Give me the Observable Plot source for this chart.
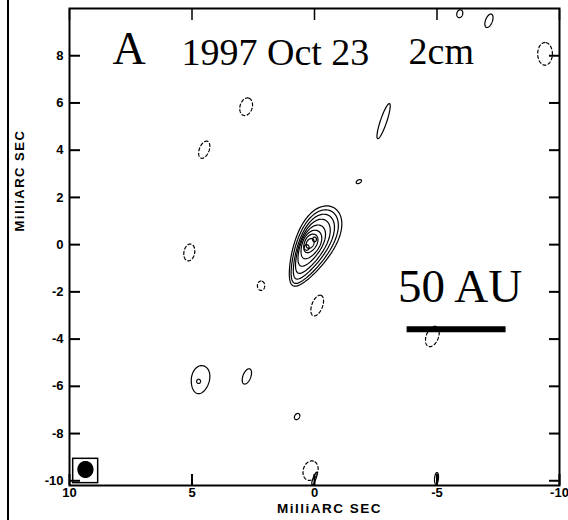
<!DOCTYPE html>
<html><head><meta charset="utf-8">
<script src="https://cdn.jsdelivr.net/npm/d3@7"></script>
<script src="https://cdn.jsdelivr.net/npm/@observablehq/plot@0.6"></script>
<style>
body{margin:0;background:#fff}
#wrap{position:relative;width:568px;height:520px;overflow:hidden}
#wrap::before{content:"";position:absolute;left:7px;top:0;bottom:0;width:2px;background:#000;z-index:2}
</style></head><body><div id="wrap"></div>
<script>
// axes
const xDomain = [10, -10];
const yDomain = [-10.2, 10];
const xTicks = [10, 5, 0, -5, -10];
const yTicks = [-10, -8, -6, -4, -2, 0, 2, 4, 6, 8];
const axisTitle = "MilliARC SEC";

// contour components (milliarcsec): centre, semi-axes, position angle, egg-ness, dashed (negative level)
const cX   = [0.06, 0.08, 0.10, 0.12, 0.15, 0.15, 0.16, 0.18, 0.32, 0.00,
              2.79, 4.50, -2.82, -1.81, 5.11, 2.18, -0.11, -4.81, 4.66, 4.73,
              2.76, 0.71, 0.16, 0.00, -4.98, -5.93, -7.12, -9.41];
const cY   = [-0.08, -0.10, -0.10, -0.08, -0.05, 0.00, 0.05, 0.05, -0.12, 0.22,
              5.84, 4.02, 5.23, 2.67, -0.33, -1.74, -2.58, -3.89, -5.72, -5.79,
              -5.58, -7.28, -9.57, -9.90, -9.90, 9.78, 9.48, 8.08];
const cA   = [1.85, 1.70, 1.50, 1.25, 0.95, 0.65, 0.42, 0.22, 0.12, 0.10,
              0.38, 0.38, 0.78, 0.12, 0.36, 0.20, 0.46, 0.45, 0.60, 0.09,
              0.34, 0.14, 0.42, 0.28, 0.25, 0.17, 0.30, 0.48];
const cB   = [0.78, 0.68, 0.58, 0.50, 0.42, 0.35, 0.25, 0.15, 0.10, 0.08,
              0.25, 0.20, 0.13, 0.07, 0.22, 0.15, 0.22, 0.25, 0.37, 0.08,
              0.16, 0.10, 0.30, 0.06, 0.08, 0.12, 0.14, 0.30];
const cPA  = [-26, -26, -26, -26, -26, -26, -26, -26, 0, 0,
              -15, -20, -18, -60, -10, 0, -20, -20, -10, 0,
              -20, -30, -15, -20, -5, -15, -20, 0];
const cEgg = [0.3, 0.3, 0.3, 0.25, 0.2, 0.15, 0.1, 0, 0, 0,
              0, 0, 0, 0, 0, 0, 0, 0, 0.1, 0,
              0, 0, 0, 0, 0, 0, 0, 0];
const cDashed = [0, 0, 0, 0, 0, 0, 0, 0, 0, 0,
              1, 1, 0, 0, 1, 1, 1, 1, 0, 0,
              0, 0, 1, 0, 0, 0, 0, 1];

// restoring beam
const beamX = 9.35, beamY = -9.52, beamA = 0.33, beamB = 0.30, beamPA = 0;
const beamBox = {x1: 9.85, x2: 8.83, y1: -9.07, y2: -10.1};

// scale bar (50 AU)
const barLabel = "50 AU";
const bar = {x1: -3.78, x2: -7.82, y: -3.585};

// annotation texts
const panel = "A";
const epoch = "1997 Oct 23";
const band = "2cm";

function outline(x0, y0, a, b, pa, egg, id, dashed) {
  const pts = [];
  const p = pa * Math.PI / 180;
  const mx = Math.sin(p), my = Math.cos(p), nx = Math.cos(p), ny = -Math.sin(p);
  const N = 90;
  for (let k = 0; k <= N; k++) {
    const t = 2 * Math.PI * k / N;
    const u = a * Math.cos(t);
    const v = b * Math.sin(t) * (1 + egg * Math.cos(t));
    pts.push({id, dashed, x: x0 + u * mx + v * nx, y: y0 + u * my + v * ny});
  }
  return pts;
}
const rows = cX.flatMap((_, i) => outline(cX[i], cY[i], cA[i], cB[i], cPA[i], cEgg[i], i, cDashed[i]));
const beamPts = outline(beamX, beamY, beamA, beamB, beamPA, 0, "beam", 0);

const serif = "Liberation Serif, Times New Roman, serif";

const chart = Plot.plot({
  width: 568, height: 520,
  marginLeft: 69, marginRight: 9, marginTop: 8, marginBottom: 35,
  x: {domain: xDomain},
  y: {domain: yDomain},
  style: {fontFamily: "Liberation Sans, Arial, sans-serif", fontSize: "13px", fontWeight: "bold", background: "transparent", color: "black"},
  marks: [
    Plot.line(rows.filter(d => !d.dashed), {x: "x", y: "y", z: "id", stroke: "black", strokeWidth: 1.2}),
    Plot.line(rows.filter(d => d.dashed), {x: "x", y: "y", z: "id", stroke: "black", strokeWidth: 1.2, strokeDasharray: "3,2.5"}),
    Plot.ruleY([bar], {y: "y", x1: "x1", x2: "x2", stroke: "black", strokeWidth: 6}),
    Plot.rect([beamBox], {x1: "x1", x2: "x2", y1: "y1", y2: "y2", fill: "none", stroke: "black", strokeWidth: 1.5}),
    Plot.line(beamPts, {x: "x", y: "y", fill: "black", stroke: "black"}),
    Plot.text([panel], {x: 8.245, y: 7.63, text: d => d, textAnchor: "start", lineAnchor: "bottom", fontFamily: serif, fontWeight: "normal", fontSize: 46}),
    Plot.text([epoch], {x: 5.43, y: 7.59, text: d => d, textAnchor: "start", lineAnchor: "bottom", fontFamily: serif, fontWeight: "normal", fontSize: 38}),
    Plot.text([band], {x: -3.84, y: 7.65, text: d => d, textAnchor: "start", lineAnchor: "bottom", fontFamily: serif, fontWeight: "normal", fontSize: 38}),
    Plot.text([barLabel], {x: -3.41, y: -2.45, text: d => d, textAnchor: "start", lineAnchor: "bottom", fontFamily: serif, fontWeight: "normal", fontSize: 47}),
    Plot.frame({stroke: "black", strokeWidth: 2}),
    Plot.axisX({anchor: "bottom", ticks: xTicks, tickSize: -11, tickPadding: 13, tickFormat: d => String(d), strokeWidth: 2, label: null}),
    Plot.axisX({anchor: "top", ticks: xTicks, tickSize: -11, tickFormat: () => "", strokeWidth: 1.5, label: null}),
    Plot.axisY({anchor: "left", ticks: yTicks, tickSize: -11, tickPadding: 17, tickFormat: d => String(d), strokeWidth: 2, label: null}),
    Plot.axisY({anchor: "right", ticks: yTicks, tickSize: -11, tickFormat: () => "", strokeWidth: 2, label: null}),
    Plot.text([axisTitle], {frameAnchor: "bottom", text: d => d, dx: 15, dy: 23, lineAnchor: "middle", fontSize: 13.5}),
    Plot.text([axisTitle], {frameAnchor: "left", text: d => d, dx: -50, dy: -15.5, rotate: -90, lineAnchor: "middle", fontSize: 13})
  ]
});
chart.querySelectorAll("text").forEach(t => { if (t.textContent === axisTitle) t.setAttribute("letter-spacing", "1.5px"); });
document.getElementById("wrap").appendChild(chart);
</script>
</body></html>
